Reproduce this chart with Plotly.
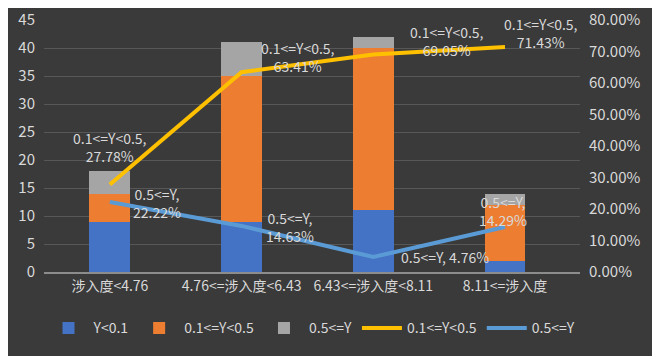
import plotly.graph_objects as go

categories = ["涉入度<4.76", "4.76<=涉入度<6.43", "6.43<=涉入度<8.11", "8.11<=涉入度"]
low_counts = [9, 9, 11, 2]          # Y<0.1
mid_counts = [5, 26, 29, 10]        # 0.1<=Y<0.5
high_counts = [4, 6, 2, 2]          # 0.5<=Y
mid_share = [0.2778, 0.6341, 0.6905, 0.7143]
high_share = [0.2222, 0.1463, 0.0476, 0.1429]
left_ticks = [0, 5, 10, 15, 20, 25, 30, 35, 40, 45]
right_ticks = [0, 0.1, 0.2, 0.3, 0.4, 0.5, 0.6, 0.7, 0.8]

txt = "#d9d9d9"
font_family = "Noto Sans CJK SC, Noto Sans, sans-serif"

fig = go.Figure()
fig.add_bar(x=categories, y=low_counts, name="Y<0.1", marker=dict(color="#4472c4", line=dict(width=0)))
fig.add_bar(x=categories, y=mid_counts, name="0.1<=Y<0.5", marker=dict(color="#ed7d31", line=dict(width=0)))
fig.add_bar(x=categories, y=high_counts, name="0.5<=Y", marker=dict(color="#a5a5a5", line=dict(width=0)))
fig.add_scatter(x=categories, y=mid_share, name="0.1<=Y<0.5", mode="lines", yaxis="y2",
                line=dict(color="#ffc000", width=4))
fig.add_scatter(x=categories, y=high_share, name="0.5<=Y", mode="lines", yaxis="y2",
                line=dict(color="#5b9bd5", width=4))

# data labels
mid_offsets = [(0, 37), (56, 15), (74, 13), (36, 14)]
high_offsets = [(47, -1), (48, -1), (72, 0), (-2, 16)]
for i, c in enumerate(categories):
    dx, dy = mid_offsets[i]
    fig.add_annotation(x=c, y=mid_share[i], yref="y2", text=f"0.1<=Y<0.5,<br>{mid_share[i]*100:.2f}%",
                       showarrow=False, xshift=dx, yshift=dy,
                       font=dict(color=txt, size=14, family=font_family))
    dx, dy = high_offsets[i]
    if i == 2:
        t = f"0.5<=Y, {high_share[i]*100:.2f}%"
    else:
        t = f"0.5<=Y,<br>{high_share[i]*100:.2f}%"
    fig.add_annotation(x=c, y=high_share[i], yref="y2", text=t,
                       showarrow=False, xshift=dx, yshift=dy,
                       font=dict(color=txt, size=14, family=font_family))

fig.update_layout(
    width=652, height=348,
    barmode="stack", bargap=0.69,
    paper_bgcolor="#3a3a3a", plot_bgcolor="rgba(0,0,0,0)",
    margin=dict(l=36, r=80, t=12, b=84, autoexpand=False),
    font=dict(family=font_family, color=txt, size=13),
    xaxis=dict(tickangle=0, showgrid=False, showline=True, linecolor="#8c8c8c", linewidth=1.5,
               tickfont=dict(size=14, color=txt), ticks="", automargin=False),
    yaxis=dict(range=[0, 45], tickvals=left_ticks, showgrid=True, gridcolor="#575757",
               zeroline=False, tickfont=dict(size=15, color=txt), ticklabelstandoff=8, automargin=False),
    yaxis2=dict(range=[0, 0.8], tickvals=right_ticks, tickformat=".2%", overlaying="y", side="right",
                showgrid=False, zeroline=False, tickfont=dict(size=15, color=txt), ticklabelstandoff=8,
                automargin=False),
    legend=dict(orientation="h", x=0.5, xanchor="center", y=-0.16, yanchor="top",
                font=dict(size=14, color=txt), bgcolor="rgba(0,0,0,0)", traceorder="normal",
                itemwidth=40),
    showlegend=True,
)

fig.write_html("out.html")
